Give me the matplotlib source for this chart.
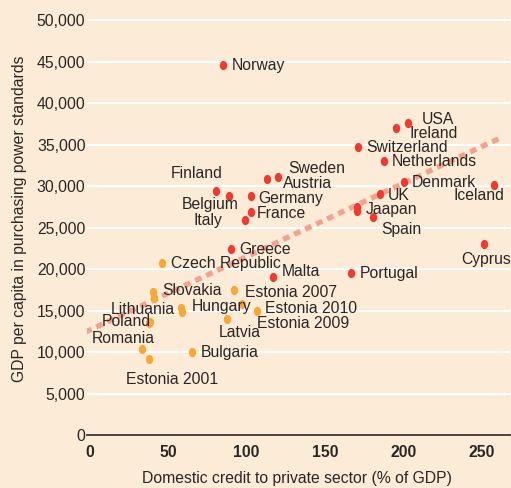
import matplotlib
matplotlib.use("Agg")
import matplotlib.pyplot as plt
from matplotlib.path import Path
import numpy as np

plt.rcParams['font.family'] = ['Liberation Sans', 'DejaVu Sans']

# ---- data ----
red_names = ["Norway", "Finland", "Belgium", "Germany", "France", "Italy", "Sweden",
             "Austria", "Greece", "Malta", "Portugal", "Cyprus", "USA", "Ireland",
             "Switzerland", "Netherlands", "Denmark", "Iceland", "UK", "Jaapan",
             "Japan2", "Spain"]
red_x = [84.9, 80.5, 88.8, 102.8, 102.8, 99.0, 120.0, 113.0, 90.0, 116.9, 166.7, 251.6,
         203.0, 195.4, 171.0, 187.7, 200.5, 258.0, 185.2, 170.5, 170.5, 180.7]
red_y = [44590, 29400, 28800, 28800, 26870, 25900, 31090, 30850, 22410, 19040, 19520,
         23020, 37600, 37000, 34700, 33020, 30490, 30130, 29040, 27470, 26990, 26270]

orange_names = ["Czech Republic", "Slovakia", "Slovakia2", "Hungary", "Hungary2",
                "Lithuania", "Poland", "Romania", "Estonia 2001", "Bulgaria", "Latvia",
                "Estonia 2007", "Estonia 2008", "Estonia 2010"]
orange_x = [46.0, 40.2, 40.9, 58.1, 58.7, 37.7, 38.0, 33.2, 37.7, 65.1, 87.5, 92.0,
            97.0, 106.6]
orange_y = [20730, 17230, 16510, 15300, 14820, 13450, 13600, 10360, 9160, 10000, 13980,
            17470, 15790, 14940]

trend_x = [-3, 263]
trend_y = [12400, 35900]

x_ticks = [0, 50, 100, 150, 200, 250]
y_ticks = list(range(0, 50001, 5000))

# label placement: (text, anchor point name, dx px, dy px, ha)
labels = [
    ("Norway", "Norway", 9, 0, "left"),
    ("Finland", "Finland", 7, 18, "right"),
    ("Belgium", "Belgium", 10, -8, "right"),
    ("Italy", "Italy", -23, 0, "right"),
    ("Germany", "Germany", 7, -2, "left"),
    ("France", "France", 6, -1, "left"),
    ("Sweden", "Sweden", 10, 9, "left"),
    ("Austria", "Austria", 16, -4, "left"),
    ("USA", "USA", 14, 4, "left"),
    ("Ireland", "Ireland", 14, -5, "left"),
    ("Switzerland", "Switzerland", 8, 0, "left"),
    ("Netherlands", "Netherlands", 8, 0, "left"),
    ("Denmark", "Denmark", 8, 0, "left"),
    ("Iceland", "Iceland", 10, -10, "right"),
    ("UK", "UK", 8, -1, "left"),
    ("Jaapan", "Jaapan", 9, -2, "left"),
    ("Spain", "Spain", 8, -12, "left"),
    ("Greece", "Greece", 8, 0, "left"),
    ("Czech Republic", "Czech Republic", 9, 0, "left"),
    ("Malta", "Malta", 9, 6, "left"),
    ("Portugal", "Portugal", 9, 0, "left"),
    ("Cyprus", "Cyprus", -23, -15, "left"),
    ("Estonia 2007", "Estonia 2007", 11, -2, "left"),
    ("Estonia 2010", "Estonia 2010", 8, 3, "left"),
    ("Estonia 2009", "Estonia 2010", 0, -12, "left"),
    ("Hungary", "Hungary", 11, 2, "left"),
    ("Slovakia", "Slovakia", 9, 2, "left"),
    ("Lithuania", "Lithuania", 26, 14, "right"),
    ("Poland", "Poland", 1, 1, "right"),
    ("Romania", "Romania", 13, 11, "right"),
    ("Estonia 2001", "Estonia 2001", 23, -20, "center"),
    ("Bulgaria", "Bulgaria", 9, 0, "left"),
    ("Latvia", "Latvia", 13, -13, "center"),
]

# ---- style ----
BG = "#FCEBD6"
RED = "#EE3A30"
ORANGE = "#F9A736"
TREND = "#F5A190"
TXT = "#2A2624"
FS = 11.3

fig = plt.figure(figsize=(5.11, 4.88), dpi=100, facecolor=BG)
ax = fig.add_axes([0.170, 0.1086, 0.8274, 0.867])
ax.set_facecolor(BG)

ax.set_xlim(-2, 268)
ax.set_ylim(0, 51000)

for yv in y_ticks:
    ax.axhline(yv, color="white", lw=1.5, zorder=1)

ax.plot(trend_x, trend_y, color=TREND, lw=3.8, dashes=(1.3, 1.0),
        solid_capstyle="butt", dash_capstyle="butt", zorder=2)

circ = Path.unit_circle()
ell = Path(circ.vertices * np.array([0.8, 1.0]), circ.codes)

ax.scatter(orange_x, orange_y, s=44, marker=ell, color=ORANGE, linewidths=0, zorder=3)
ax.scatter(red_x, red_y, s=44, marker=ell, color=RED, linewidths=0, zorder=3)

pos = {}
for n, x, y in zip(red_names, red_x, red_y):
    pos[n] = (x, y)
for n, x, y in zip(orange_names, orange_x, orange_y):
    pos[n] = (x, y)

for text, name, dx, dy, ha in labels:
    ax.annotate(text, xy=pos[name], xytext=(dx, dy), textcoords="offset pixels",
                ha=ha, va="center", fontsize=FS, color=TXT, zorder=4)

for s in ["top", "right", "left"]:
    ax.spines[s].set_visible(False)
ax.spines["bottom"].set_color("#3a3633")
ax.spines["bottom"].set_linewidth(1.3)
ax.spines["bottom"].set_zorder(5)

ax.set_xticks(x_ticks)
ax.set_xticklabels([str(v) for v in x_ticks], fontweight="bold")
ax.set_yticks(y_ticks)
ax.set_yticklabels([f"{v:,}" for v in y_ticks])
ax.tick_params(axis="x", length=0, pad=7, labelsize=FS, labelcolor=TXT)
ax.tick_params(axis="y", length=0, pad=1, labelsize=FS, labelcolor=TXT)

fig.text(20 / 511, 1 - 219 / 488, "GDP per capita in purchasing power standards",
         rotation=90, ha="center", va="center", fontsize=FS, color=TXT)
fig.text(297 / 511, 1 - 479 / 488, "Domestic credit to private sector (% of GDP)",
         ha="center", va="center", fontsize=FS, color=TXT)

fig.savefig("out.png", dpi=100, facecolor=BG)
